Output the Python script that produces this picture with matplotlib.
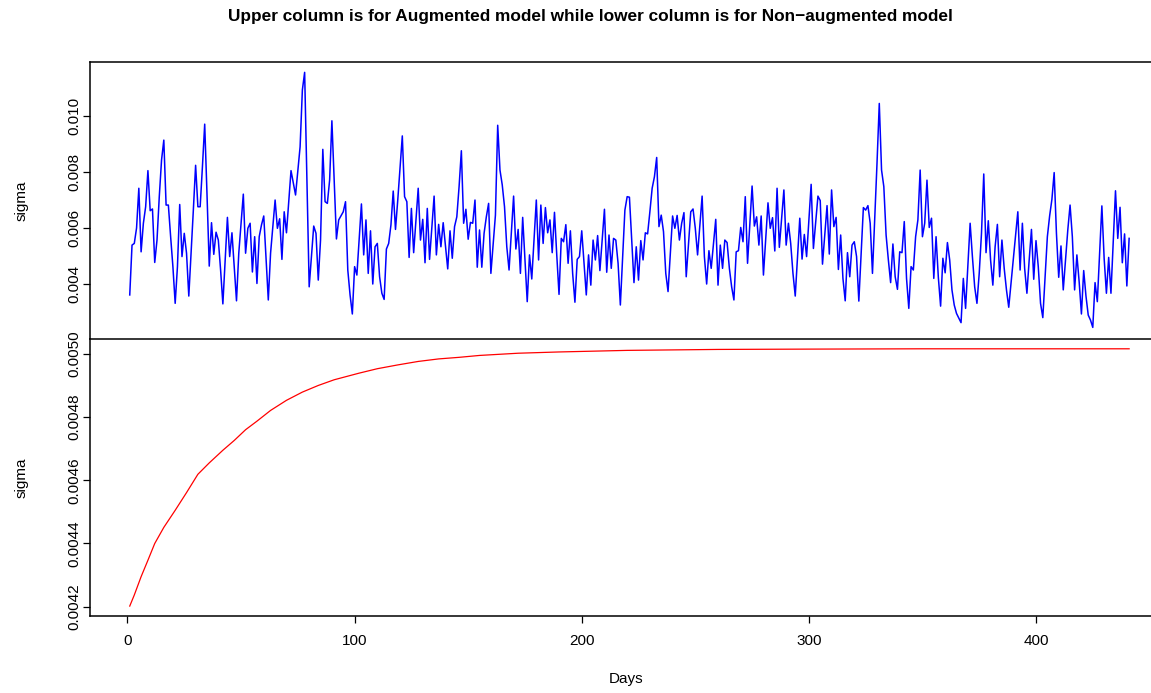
import matplotlib
matplotlib.use('Agg')
import matplotlib.pyplot as plt
import numpy as np

plt.rcParams['font.family'] = ['Liberation Sans', 'DejaVu Sans']

TITLE = 'Upper column is for Augmented model while lower column is for Non\u2212augmented model'

# Augmented model: sigma (in units of 1e-3)
aug_days = [
    1, 2, 3, 4, 5, 6, 7, 8, 9, 10, 11, 12, 13, 14, 15, 16, 17, 18, 19, 20,
    21, 22, 23, 24, 25, 26, 27, 28, 29, 30, 31, 32, 33, 34, 35, 36, 37, 38, 39, 40,
    41, 42, 44, 45, 46, 48, 49, 51, 52, 53, 54, 55, 56, 57, 58, 59, 60, 62, 63, 65,
    66, 67, 68, 69, 70, 72, 74, 76, 77, 78, 80, 82, 83, 84, 85, 86, 87, 88, 89, 90,
    92, 93, 95, 96, 97, 98, 99, 100, 101, 103, 104, 105, 106, 107, 108, 109, 110, 111, 112, 113,
    114, 115, 116, 117, 118, 119, 121, 122, 123, 124, 125, 126, 128, 129, 130, 131, 132, 133, 135, 136,
    137, 138, 139, 141, 142, 143, 144, 145, 146, 147, 148, 149, 150, 151, 152, 153, 154, 155, 156, 157,
    158, 159, 160, 162, 163, 164, 165, 166, 167, 168, 170, 171, 172, 173, 174, 175, 176, 177, 178, 180,
    181, 182, 183, 184, 185, 186, 187, 188, 189, 190, 191, 192, 193, 194, 195, 196, 197, 198, 199, 200,
    201, 202, 203, 204, 205, 206, 207, 208, 210, 211, 212, 213, 214, 215, 216, 217, 219, 220, 221, 223,
    224, 225, 226, 227, 228, 229, 230, 231, 232, 233, 234, 235, 236, 237, 238, 240, 241, 242, 243, 244,
    245, 246, 248, 249, 250, 251, 253, 254, 255, 256, 257, 259, 260, 261, 262, 263, 264, 265, 266, 267,
    268, 269, 270, 271, 272, 273, 275, 276, 277, 278, 279, 280, 282, 283, 284, 285, 286, 287, 289, 290,
    291, 292, 293, 294, 296, 297, 298, 299, 301, 302, 304, 305, 306, 308, 309, 310, 311, 312, 313, 314,
    315, 316, 317, 318, 319, 320, 321, 322, 324, 325, 326, 327, 328, 330, 331, 332, 333, 334, 335, 336,
    337, 338, 339, 340, 341, 342, 343, 344, 345, 346, 347, 348, 349, 350, 351, 352, 353, 354, 355, 356,
    357, 358, 359, 360, 361, 362, 363, 364, 365, 367, 368, 369, 371, 372, 373, 374, 375, 376, 377, 378,
    379, 380, 381, 382, 383, 384, 385, 386, 387, 388, 392, 393, 394, 395, 396, 397, 398, 399, 400, 401,
    402, 403, 404, 405, 406, 407, 408, 409, 410, 411, 412, 413, 414, 415, 416, 417, 418, 419, 420, 421,
    422, 423, 424, 425, 426, 427, 429, 430, 431, 432, 433, 435, 436, 437, 438, 439, 440, 441,
]
aug_sigma = [
    3.61, 5.39, 5.45, 6.00, 7.42, 5.15, 6.17, 6.76, 8.05, 6.62, 6.68, 4.77, 5.57, 7.12, 8.43, 9.14, 6.82, 6.82, 5.69, 4.62,
    3.31, 4.62, 6.84, 4.98, 5.81, 5.10, 3.57, 5.10, 6.64, 8.24, 6.76, 6.76, 8.19, 9.71, 7.24, 4.64, 6.19, 5.06, 5.85, 5.57,
    4.50, 3.29, 6.38, 4.98, 5.83, 3.40, 5.10, 7.21, 5.10, 5.99, 6.17, 4.43, 5.69, 4.02, 5.69, 6.11, 6.43, 3.43, 5.10, 7.00,
    5.99, 6.33, 4.88, 6.58, 5.83, 8.05, 7.18, 8.90, 10.93, 11.56, 3.90, 6.07, 5.81, 4.14, 5.57, 8.81, 6.94, 6.88, 7.71, 9.83,
    5.61, 6.29, 6.58, 6.94, 4.50, 3.61, 2.93, 4.62, 4.32, 6.86, 5.04, 6.29, 4.38, 5.90, 4.00, 5.33, 5.45, 4.26, 3.67, 3.45,
    5.25, 5.45, 6.11, 7.32, 5.95, 7.00, 9.29, 7.12, 6.94, 4.95, 6.70, 5.12, 7.42, 5.57, 6.31, 4.76, 6.70, 4.88, 7.14, 5.04,
    6.13, 5.33, 6.19, 4.54, 5.90, 4.92, 6.05, 6.40, 7.48, 8.76, 6.17, 6.67, 5.60, 6.20, 6.17, 7.00, 4.60, 5.93, 4.60, 5.81,
    6.40, 6.88, 4.38, 6.46, 9.67, 8.07, 7.54, 6.76, 5.33, 4.50, 7.14, 5.25, 5.95, 4.38, 6.38, 4.86, 3.37, 5.04, 4.18, 7.00,
    4.86, 6.82, 5.45, 6.73, 5.83, 6.29, 5.12, 6.56, 5.04, 3.63, 5.63, 5.51, 6.12, 4.74, 5.90, 4.38, 3.35, 4.88, 4.98, 5.90,
    4.74, 3.61, 5.04, 3.96, 5.57, 4.86, 5.73, 4.48, 6.67, 4.42, 5.75, 4.56, 5.63, 5.57, 4.74, 3.25, 6.64, 7.12, 7.10, 4.05,
    5.33, 4.14, 5.55, 4.86, 5.83, 5.79, 6.58, 7.42, 7.83, 8.52, 6.05, 6.46, 5.87, 4.38, 3.73, 6.43, 5.99, 6.45, 5.57, 6.17,
    6.55, 4.26, 6.58, 6.68, 5.99, 5.04, 7.14, 4.98, 4.00, 5.19, 4.56, 6.31, 3.96, 5.39, 4.56, 5.57, 5.48, 4.56, 3.90, 3.43,
    5.15, 5.19, 6.02, 5.51, 7.12, 4.74, 7.50, 6.07, 6.40, 5.39, 6.43, 4.32, 6.90, 5.99, 6.37, 5.18, 7.42, 5.31, 7.36, 5.39,
    6.17, 5.45, 4.38, 3.57, 6.35, 4.89, 5.77, 4.98, 7.56, 5.27, 7.14, 6.98, 4.71, 6.80, 5.07, 7.36, 6.05, 6.38, 4.52, 5.75,
    4.20, 3.40, 5.12, 4.26, 5.39, 5.51, 4.98, 3.39, 6.73, 6.64, 6.80, 6.17, 4.38, 8.31, 10.45, 8.07, 7.48, 5.75, 4.86, 4.05,
    5.43, 4.26, 3.81, 5.15, 5.12, 6.23, 4.20, 3.13, 4.62, 4.50, 5.69, 6.29, 8.07, 5.69, 6.17, 7.71, 6.02, 6.35, 4.20, 5.69,
    4.24, 3.21, 4.92, 4.40, 5.48, 4.86, 3.79, 3.25, 2.95, 2.62, 4.20, 3.13, 6.17, 4.98, 3.90, 3.31, 4.38, 5.81, 7.93, 5.12,
    6.26, 4.86, 3.96, 5.33, 6.13, 4.26, 5.57, 4.56, 3.79, 3.17, 6.58, 4.50, 6.17, 4.56, 3.67, 4.86, 5.95, 4.17, 5.55, 4.62,
    3.31, 2.80, 4.26, 5.69, 6.43, 7.02, 7.98, 5.81, 4.24, 5.36, 3.79, 4.88, 5.93, 6.82, 5.69, 3.79, 5.04, 4.08, 2.93, 4.48,
    3.57, 2.89, 2.71, 2.45, 4.05, 3.37, 6.79, 4.92, 3.67, 4.95, 3.67, 7.33, 5.63, 6.74, 4.76, 5.79, 3.93, 5.63,
]

# Non-augmented model: sigma (units of 1e-3)
non_days = [1, 3, 6, 9, 12, 16, 21, 26, 31, 36, 42, 47, 52, 57, 63, 70, 77, 84, 91, 102,
            110, 119, 128, 137, 146, 155, 172, 190, 220, 260, 300, 350, 400, 441]
non_sigma = [4.202, 4.237, 4.295, 4.347, 4.400, 4.451, 4.505, 4.561, 4.619, 4.655, 4.695, 4.726,
             4.760, 4.787, 4.821, 4.853, 4.879, 4.900, 4.918, 4.939, 4.953, 4.965, 4.976, 4.984,
             4.989, 4.995, 5.002, 5.006, 5.011, 5.014, 5.015, 5.016, 5.016, 5.016]

W, H = 1151, 693
fig = plt.figure(figsize=(W / 100, H / 100), dpi=100)

left = 90 / W
width = 1 - left + 0.01
ax1 = fig.add_axes([left, 1 - 339 / H, width, (339 - 62) / H])
ax2 = fig.add_axes([left, 1 - 616 / H, width, (616 - 339) / H])

ax1.plot(aug_days, np.array(aug_sigma) * 1e-3, color='#0000ff', lw=1.1)
ax2.plot(non_days, np.array(non_sigma) * 1e-3, color='#ff0000', lw=0.9)

xlim = (-16.5, 455.7)
for ax in (ax1, ax2):
    ax.set_xlim(*xlim)
    ax.spines['right'].set_visible(False)
    for s in ('top', 'bottom', 'left'):
        ax.spines[s].set_linewidth(1.1)
    ax.tick_params(axis='y', length=5, width=0.9, pad=1.5, labelsize=11, labelrotation=90)
    ax.set_ylabel('sigma', fontsize=11, labelpad=28)

ax1.set_ylim(0.002036, 0.01193)
ax1.set_yticks([0.004, 0.006, 0.008, 0.010])
ax1.set_yticklabels(['0.004', '0.006', '0.008', '0.010'], va='center')
ax1.set_xticks([])
ax1.spines['bottom'].set_visible(False)

ax2.set_ylim(0.0041706, 0.005047)
ax2.set_yticks([0.0042, 0.0044, 0.0046, 0.0048, 0.0050])
ax2.set_yticklabels(['0.0042', '0.0044', '0.0046', '0.0048', '0.0050'], va='center')
ax2.set_xticks([0, 100, 200, 300, 400])
ax2.tick_params(axis='x', length=5, width=0.9, pad=8, labelsize=11)
ax2.set_xlabel('Days', fontsize=11, labelpad=17)

fig.text(590 / W, 1 - 17 / H, TITLE, ha='center', va='center', fontsize=12.4, fontweight='bold')

fig.savefig('out.png', dpi=100, facecolor='white')
